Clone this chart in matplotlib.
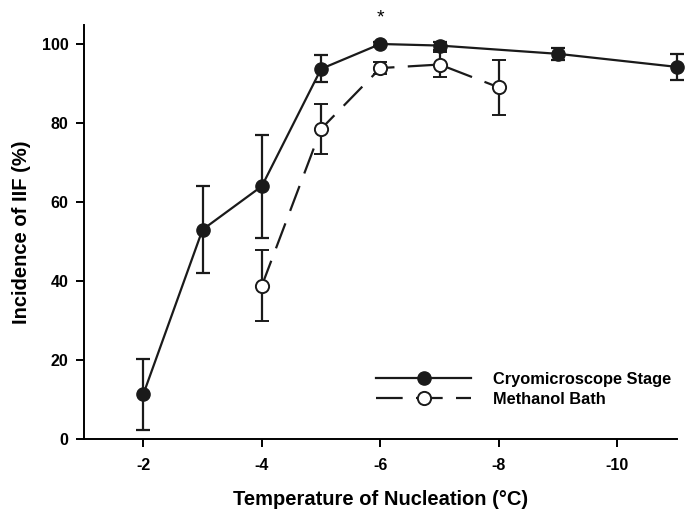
import matplotlib
matplotlib.use('Agg')
import matplotlib.pyplot as plt
from matplotlib.lines import Line2D

# Cryomicroscope stage (filled circles)
cryo_t = [-2, -3, -4, -5, -6, -7, -9, -11]
cryo_iif = [11.3, 53.0, 64.0, 93.7, 100.0, 99.6, 97.5, 94.2]
cryo_err = [9.0, 11.0, 13.0, 3.4, 0.6, 1.0, 1.6, 3.2]

# Methanol bath (open circles)
meth_t = [-4, -5, -6, -7, -8]
meth_iif = [38.8, 78.5, 93.9, 94.8, 89.0]
meth_err = [9.0, 6.4, 1.6, 3.2, 7.0]

xticks = [-2, -4, -6, -8, -10]
yticks = [0, 20, 40, 60, 80, 100]

plt.rcParams['font.family'] = ['Liberation Sans', 'DejaVu Sans']
ink = '#1a1a1a'

fig = plt.figure(figsize=(6.92, 5.17), dpi=100)
ax = fig.add_axes([0.1214, 0.1509, 0.8566, 0.8007])

meth_style = dict(color=ink, lw=1.6, dashes=(12, 6), marker='o', ms=9.5,
                  mfc='white', mec=ink, mew=1.4)
cryo_style = dict(color=ink, lw=1.6, marker='o', ms=9.5, mfc=ink, mec=ink)

eb = ax.errorbar(meth_t, meth_iif, yerr=meth_err, elinewidth=1.6,
                 capsize=4.7, capthick=1.6, zorder=2, **meth_style)
eb2 = ax.errorbar(cryo_t, cryo_iif, yerr=cryo_err, elinewidth=1.6,
                  capsize=4.7, capthick=1.6, zorder=3, **cryo_style)
for container in (eb, eb2):
    for art in container.lines[:1] + tuple(container.lines[1]) + tuple(container.lines[2]):
        art.set_clip_on(False)

ax.text(-6, 106.5, '*', ha='center', va='center', fontsize=14,
        clip_on=False)

ax.set_xlim(-1, -11)
ax.set_ylim(0, 104.8)
ax.set_xticks(xticks)
ax.set_xticklabels([str(t) for t in xticks])
ax.set_yticks(yticks)

for s in ['top', 'right']:
    ax.spines[s].set_visible(False)
for s in ['left', 'bottom']:
    ax.spines[s].set_linewidth(1.4)
ax.tick_params(direction='out', length=6, width=1.4, labelsize=11.5)
ax.tick_params(axis='y', pad=5)
ax.tick_params(axis='x', pad=8)
for lab in ax.get_xticklabels() + ax.get_yticklabels():
    lab.set_fontweight('bold')

ax.set_xlabel('Temperature of Nucleation (°C)', fontsize=14.5, fontweight='bold',
              labelpad=12)
ax.set_ylabel('Incidence of IIF (%)', fontsize=14.5, fontweight='bold',
              labelpad=8)

handles = [Line2D([], [], **cryo_style), Line2D([], [], **meth_style)]
labels = ['Cryomicroscope Stage', 'Methanol Bath']
fig.legend(handles, labels, loc='upper left',
           bbox_to_anchor=(376 / 692, 1 - 372 / 517),
           frameon=False, borderpad=0, borderaxespad=0,
           handlelength=5.8, handletextpad=1.35, labelspacing=0.3,
           prop={'size': 11.8, 'weight': 'bold'})

fig.savefig('out.png', dpi=100)
